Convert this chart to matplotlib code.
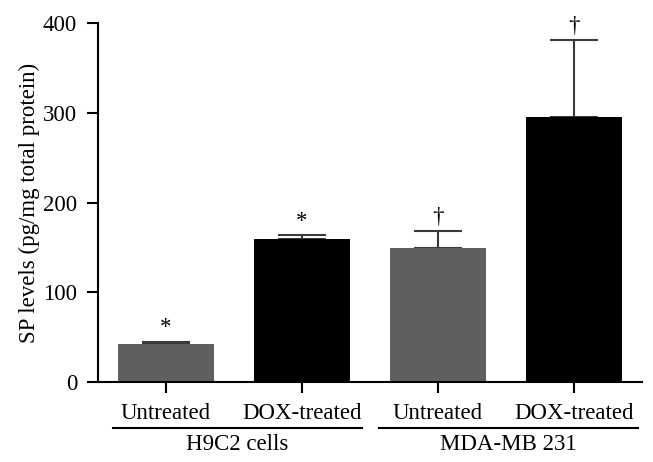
import matplotlib
matplotlib.use("Agg")
import matplotlib.pyplot as plt
from matplotlib.lines import Line2D

plt.rcParams["font.family"] = ["Liberation Serif", "DejaVu Serif"]

# ── Data ──────────────────────────────────────────────────────────────────────
conditions = ["Untreated", "DOX-treated", "Untreated", "DOX-treated"]
values     = [42, 159, 149, 295]
errors     = [3, 4.5, 19, 86]
marks      = ["*", "*", "\u2020", "\u2020"]
groups     = ["H9C2 cells", "MDA-MB 231"]
colors     = ["#5f5f5f", "#000000", "#5f5f5f", "#000000"]

FS = 16.5

fig = plt.figure(figsize=(6.53, 4.62), dpi=100)
ax = fig.add_axes([0.150, 0.173, 0.833, 0.777])

x = list(range(len(values)))
ax.bar(x, values, width=0.71, color=colors, edgecolor="none", zorder=2)
ax.errorbar(x, values, yerr=[[0] * len(errors), errors], fmt="none",
            ecolor="#3a3a3a", elinewidth=1.5, capsize=17, capthick=1.5, zorder=1)

for xi, v, e, m in zip(x, values, errors, marks):
    ax.text(xi, v + e + 4, m, ha="center", va="bottom", fontsize=FS)

ax.set_xlim(-0.5, 3.5)
ax.set_ylim(0, 400)
ax.set_yticks([0, 100, 200, 300, 400])
ax.set_xticks(x)
ax.set_xticklabels(conditions)
ax.set_ylabel("SP levels (pg/mg total protein)", fontsize=FS, labelpad=2)

for side in ("top", "right"):
    ax.spines[side].set_visible(False)
for side in ("left", "bottom"):
    ax.spines[side].set_linewidth(1.5)
ax.tick_params(axis="both", direction="out", length=8, width=1.5,
               labelsize=FS, pad=7)

# ── Group brackets under the tick labels ─────────────────────────────────────
trans = ax.get_xaxis_transform()
spans = [(-0.39, 1.44), (1.57, 3.47)]
for (x0, x1), name in zip(spans, groups):
    ax.add_line(Line2D([x0, x1], [-0.128, -0.128], transform=trans,
                       color="black", linewidth=1.5, clip_on=False))
    ax.text((x0 + x1) / 2, -0.145, name, transform=trans,
            ha="center", va="top", fontsize=FS, clip_on=False)

fig.savefig("out.png", dpi=100)
